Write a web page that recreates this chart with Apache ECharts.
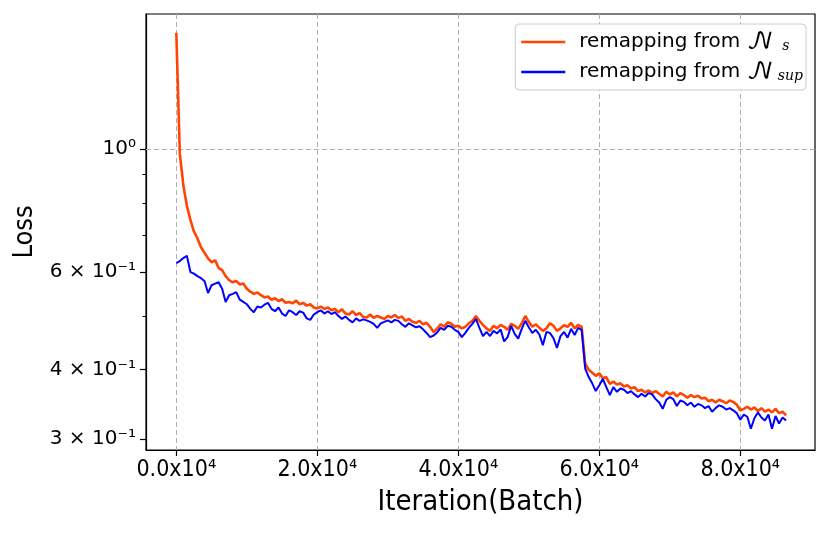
<!DOCTYPE html>
<html>
<head>
<meta charset="utf-8">
<script src="https://cdn.jsdelivr.net/npm/echarts@6/dist/echarts.min.js"></script>
<style>
  html, body { margin: 0; padding: 0; background: #fff; }
  #main { width: 831px; height: 534px; }
</style>
</head>
<body>
<div id="main"></div>
<script>
// iteration (batch) sampled every 500
const iterations = [
    0, 500, 1000, 1500, 2000, 2500, 3000, 3500, 4000, 4500,
    5000, 5500, 6000, 6500, 7000, 7500, 8000, 8500, 9000, 9500,
    10000, 10500, 11000, 11500, 12000, 12500, 13000, 13500, 14000, 14500,
    15000, 15500, 16000, 16500, 17000, 17500, 18000, 18500, 19000, 19500,
    20000, 20500, 21000, 21500, 22000, 22500, 23000, 23500, 24000, 24500,
    25000, 25500, 26000, 26500, 27000, 27500, 28000, 28500, 29000, 29500,
    30000, 30500, 31000, 31500, 32000, 32500, 33000, 33500, 34000, 34500,
    35000, 35500, 36000, 36500, 37000, 37500, 38000, 38500, 39000, 39500,
    40000, 40500, 41000, 41500, 42000, 42500, 43000, 43500, 44000, 44500,
    45000, 45500, 46000, 46500, 47000, 47500, 48000, 48500, 49000, 49500,
    50000, 50500, 51000, 51500, 52000, 52500, 53000, 53500, 54000, 54500,
    55000, 55500, 56000, 56500, 57000, 57500, 58000, 58500, 59000, 59500,
    60000, 60500, 61000, 61500, 62000, 62500, 63000, 63500, 64000, 64500,
    65000, 65500, 66000, 66500, 67000, 67500, 68000, 68500, 69000, 69500,
    70000, 70500, 71000, 71500, 72000, 72500, 73000, 73500, 74000, 74500,
    75000, 75500, 76000, 76500, 77000, 77500, 78000, 78500, 79000, 79500,
    80000, 80500, 81000, 81500, 82000, 82500, 83000, 83500, 84000, 84500,
    85000, 85500, 86000, 86500
];

// remapping from N_s
const lossNs = [
    1.62, 0.98, 0.86, 0.79, 0.745, 0.71, 0.69, 0.665, 0.65, 0.635,
    0.625, 0.63, 0.61, 0.605, 0.59, 0.58, 0.575, 0.578, 0.57, 0.572,
    0.56, 0.553, 0.548, 0.551, 0.545, 0.54, 0.542, 0.535, 0.538, 0.532,
    0.536, 0.528, 0.53, 0.527, 0.533, 0.525, 0.528, 0.522, 0.525, 0.518,
    0.516, 0.52, 0.515, 0.518, 0.512, 0.515, 0.508, 0.514, 0.505, 0.503,
    0.51, 0.502, 0.506, 0.498, 0.497, 0.503, 0.496, 0.5, 0.497, 0.494,
    0.5, 0.497, 0.502, 0.496, 0.499, 0.49, 0.494, 0.488, 0.486, 0.49,
    0.483, 0.486, 0.478, 0.468, 0.474, 0.483, 0.478, 0.487, 0.484, 0.478,
    0.48, 0.475, 0.478, 0.485, 0.49, 0.5, 0.49, 0.482, 0.475, 0.47,
    0.48, 0.475, 0.482, 0.478, 0.472, 0.484, 0.48, 0.474, 0.485, 0.5,
    0.488, 0.478, 0.483, 0.476, 0.47, 0.475, 0.485, 0.48, 0.47, 0.475,
    0.481, 0.478, 0.486, 0.475, 0.482, 0.478, 0.41, 0.4, 0.395, 0.39,
    0.394, 0.386, 0.388, 0.377, 0.381, 0.376, 0.378, 0.373, 0.375, 0.37,
    0.372, 0.366, 0.368, 0.364, 0.367, 0.363, 0.366, 0.362, 0.358, 0.365,
    0.361, 0.364, 0.358, 0.363, 0.36, 0.356, 0.36, 0.357, 0.359, 0.355,
    0.356, 0.351, 0.353, 0.349, 0.353, 0.351, 0.348, 0.352, 0.35, 0.346,
    0.338, 0.34, 0.343, 0.339, 0.342, 0.337, 0.341, 0.336, 0.339, 0.335,
    0.34, 0.334, 0.336, 0.331
];

// remapping from N_sup
const lossNsup = [
    0.623, 0.628, 0.636, 0.642, 0.6, 0.596, 0.59, 0.585, 0.578, 0.55,
    0.568, 0.572, 0.575, 0.56, 0.53, 0.545, 0.548, 0.552, 0.535, 0.53,
    0.525, 0.515, 0.508, 0.52, 0.518, 0.524, 0.528, 0.515, 0.51, 0.518,
    0.505, 0.5, 0.512, 0.508, 0.502, 0.51, 0.507, 0.495, 0.492, 0.503,
    0.508, 0.512, 0.505, 0.51, 0.504, 0.508, 0.5, 0.494, 0.499, 0.492,
    0.487, 0.495, 0.49, 0.493, 0.491, 0.488, 0.484, 0.476, 0.485, 0.488,
    0.491, 0.487, 0.492, 0.49, 0.483, 0.478, 0.485, 0.481, 0.477, 0.479,
    0.473, 0.466, 0.458, 0.461, 0.467, 0.476, 0.472, 0.48, 0.478, 0.472,
    0.468, 0.458, 0.466, 0.476, 0.484, 0.494, 0.476, 0.46, 0.468, 0.46,
    0.47, 0.465, 0.473, 0.45, 0.458, 0.48, 0.464, 0.455, 0.474, 0.49,
    0.477, 0.466, 0.472, 0.463, 0.443, 0.468, 0.466, 0.456, 0.438, 0.46,
    0.468, 0.457, 0.474, 0.462, 0.476, 0.472, 0.402, 0.388, 0.378, 0.366,
    0.375, 0.385, 0.372, 0.36, 0.372, 0.365, 0.37, 0.368, 0.363, 0.366,
    0.361, 0.357, 0.362, 0.358, 0.363, 0.361, 0.354, 0.349, 0.34, 0.353,
    0.357, 0.354, 0.344, 0.352, 0.35, 0.345, 0.349, 0.343, 0.347, 0.345,
    0.341, 0.344, 0.336, 0.341, 0.345, 0.343, 0.339, 0.341, 0.338, 0.334,
    0.325, 0.332, 0.329, 0.313, 0.327, 0.335, 0.328, 0.324, 0.332, 0.313,
    0.33, 0.32, 0.328, 0.324
];

const xTicks = [0, 20000, 40000, 60000, 80000];
const yMajorTicks = [0.3, 0.4, 0.6, 1];
const yMinorTicks = [0.5, 0.7, 0.8, 0.9];
const yTickLabels = { 3: "3 × 10⁻¹", 4: "4 × 10⁻¹", 6: "6 × 10⁻¹", 10: "10⁰" };
const seriesNames = ["remapping from N_s", "remapping from N_sup"];

const tickFont = "'DejaVu Sans', sans-serif";
const narrowFont = "'Liberation Sans Narrow', 'DejaVu Sans Condensed', 'Noto Sans', sans-serif";
const gridColor = "#b0b0b0";

function pairs(xs, ys) {
    return xs.map((x, i) => [x, ys[i]]);
}

const chart = echarts.init(document.getElementById("main"), null, { renderer: "canvas" });

const option = {
    animation: false,
    backgroundColor: "#fff",
    grid: {
        left: 146,
        right: 16,
        top: 14,
        bottom: 84,
        show: true,
        borderColor: "#000",
        borderWidth: 1.2,
        backgroundColor: "transparent",
    },
    legend: {
        orient: "vertical",
        right: 25,
        top: 24,
        padding: [6, 3, 6, 6],
        itemWidth: 44,
        itemHeight: 14,
        itemGap: 6,
        backgroundColor: "#fff",
        borderColor: "#cccccc",
        borderWidth: 1,
        borderRadius: 4,
        // thin horizontal bar, like a line sample
        icon: "path://M0,0 L44,0 L44,2.6 L0,2.6 Z",
        symbolKeepAspect: true,
        data: [seriesNames[0], seriesNames[1]],
        formatter: (name) => name === seriesNames[0]
            ? "{t|remapping from }{n|𝒩}{s|  s}"
            : "{t|remapping from }{n|𝒩}{s| sup}",
        textStyle: {
            color: "#000",
            padding: [0, 0, 0, 9],
            rich: {
                t: { fontFamily: tickFont, fontSize: 20, color: "#000", lineHeight: 22, verticalAlign: "middle" },
                n: { fontFamily: "'DejaVu Math TeX Gyre', 'DejaVu Serif', 'DejaVu Sans', serif", fontSize: 24, color: "#000", lineHeight: 22, verticalAlign: "middle" },
                s: { fontFamily: "'DejaVu Serif', serif", fontStyle: "italic", fontSize: 14, color: "#000", lineHeight: 22, verticalAlign: "bottom" },
            },
        },
    },
    xAxis: {
        type: "value",
        min: -4300,
        max: 90600,
        name: "Iteration(Batch)",
        nameLocation: "middle",
        nameGap: 38,
        nameTextStyle: { fontFamily: narrowFont, fontSize: 29, color: "#000" },
        axisLine: { show: true, lineStyle: { color: "#000", width: 1.2 } },
        axisTick: { show: true, inside: false, length: 6, customValues: xTicks, lineStyle: { color: "#000", width: 1.2 } },
        axisLabel: {
            customValues: xTicks,
            margin: 9,
            fontFamily: narrowFont,
            fontSize: 23,
            color: "#000",
            formatter: (v) => (v / 10000).toFixed(1) + "x10⁴",
        },
        splitLine: { show: true, lineStyle: { color: gridColor, width: 1, type: [5, 3] } },
    },
    yAxis: [
        {
            type: "log",
            logBase: 10,
            min: 0.2866,
            max: 1.752,
            position: "left",
            name: "Loss",
            nameLocation: "middle",
            nameGap: 108,
            nameTextStyle: { fontFamily: narrowFont, fontSize: 27, color: "#000" },
            axisLine: { show: true, onZero: false, lineStyle: { color: "#000", width: 1.2 } },
            axisTick: { show: true, inside: false, length: 6, customValues: yMajorTicks, lineStyle: { color: "#000", width: 1.2 } },
            axisLabel: {
                customValues: yMajorTicks,
                margin: 10,
                fontFamily: tickFont,
                fontSize: 20,
                color: "#000",
                formatter: (v) => yTickLabels[Math.round(v * 10)] || "",
            },
            splitLine: { show: false },
        },
        {
            type: "log",
            logBase: 10,
            min: 0.2866,
            max: 1.752,
            position: "left",
            axisLine: { show: false, onZero: false },
            axisTick: { show: true, inside: false, length: 3.5, customValues: yMinorTicks, lineStyle: { color: "#000", width: 1 } },
            axisLabel: { show: false, customValues: yMinorTicks },
            splitLine: { show: false },
        },
    ],
    series: [
        {
            name: seriesNames[0],
            type: "line",
            yAxisIndex: 0,
            showSymbol: false,
            symbol: "none",
            color: "#ff4500",
            lineStyle: { color: "#ff4500", width: 2.6 },
            data: pairs(iterations, lossNs),
            z: 3,
            markLine: {
                silent: true,
                symbol: "none",
                label: { show: false },
                lineStyle: { color: gridColor, width: 1, type: [5, 3] },
                data: [{ yAxis: 1 }],
                z: 1,
            },
        },
        {
            name: seriesNames[1],
            type: "line",
            yAxisIndex: 0,
            showSymbol: false,
            symbol: "none",
            color: "#0000ff",
            lineStyle: { color: "#0000ff", width: 2 },
            data: pairs(iterations, lossNsup),
            z: 4,
        },
    ],
};

chart.setOption(option);
</script>
</body>
</html>
